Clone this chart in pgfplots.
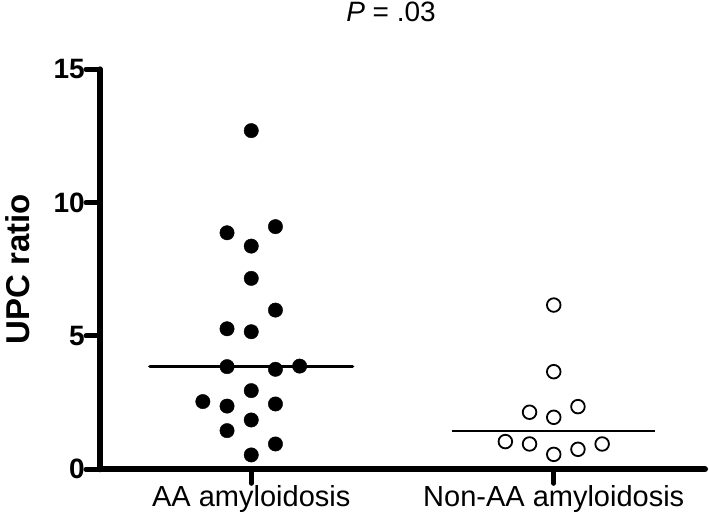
\documentclass[border=0pt]{standalone}
\usepackage{fontspec}
\setmainfont{Liberation Sans}
\usepackage{pgfplots}
\pgfplotsset{compat=1.18}

\begin{document}
\begin{tikzpicture}
% picture is 709 x 520, axis corner (0,0) sits at pixel (100,469.3)
\path[use as bounding box] (-100pt,-50.7pt) rectangle (609pt,469.3pt);
\begin{axis}[
    scale only axis,
    width=605pt, height=400pt,
    xmin=0.5, xmax=2.5,
    ymin=0, ymax=15,
    axis lines=left,
    axis line style={-, line width=6pt, line cap=round},
    xtick={1,2},
    xticklabels={AA amyloidosis, Non-AA amyloidosis},
    ytick={0,5,10,15},
    tick align=outside,
    major tick length=14pt,
    tick style={line width=5pt, line cap=round, black},
    /pgf/number format/assume math mode=true,
    yticklabel style={font=\bfseries\fontsize{28}{30}\selectfont, inner sep=1pt},
    xticklabel style={font=\fontsize{29}{31}\selectfont, inner sep=2pt},
    ylabel={\bfseries UPC ratio},
    every axis y label/.style={at={(axis description cs:-0.136,0.5)}, rotate=90, anchor=center, font=\fontsize{33}{35}\selectfont},
    title={\textit{P} = .03},
    title style={at={(axis description cs:0.481,1.128)}, anchor=center, font=\fontsize{28}{30}\selectfont},
    clip=false,
]
% medians
\addplot[black, line width=3.5pt, line cap=round] coordinates {(0.665,3.85) (1.335,3.85)};
\addplot[black, line width=2pt] coordinates {(1.665,1.45) (2.335,1.45)};
% AA amyloidosis
\addplot[only marks, mark=*, mark size=7.2pt, mark options={fill=black, draw=black, line width=0.4pt}] coordinates {
    (1,12.70) (0.92,8.87) (1.08,9.10) (1,8.37) (1,7.16) (1.08,5.97)
    (0.92,5.27) (1,5.16) (0.92,3.85) (1.08,3.75) (1.16,3.87) (1,2.95)
    (0.84,2.54) (0.92,2.37) (1.08,2.45) (1,1.85) (0.92,1.45) (1.08,0.95)
    (1,0.54)
};
% Non-AA amyloidosis
\addplot[only marks, mark=*, mark size=6.8pt, mark options={fill=white, draw=black, line width=1.8pt}] coordinates {
    (2,6.16) (2,3.66) (1.92,2.14) (2,1.95) (2.08,2.35)
    (1.84,1.04) (1.92,0.95) (2,0.56) (2.08,0.75) (2.16,0.95)
};
\end{axis}
\end{tikzpicture}
\end{document}
